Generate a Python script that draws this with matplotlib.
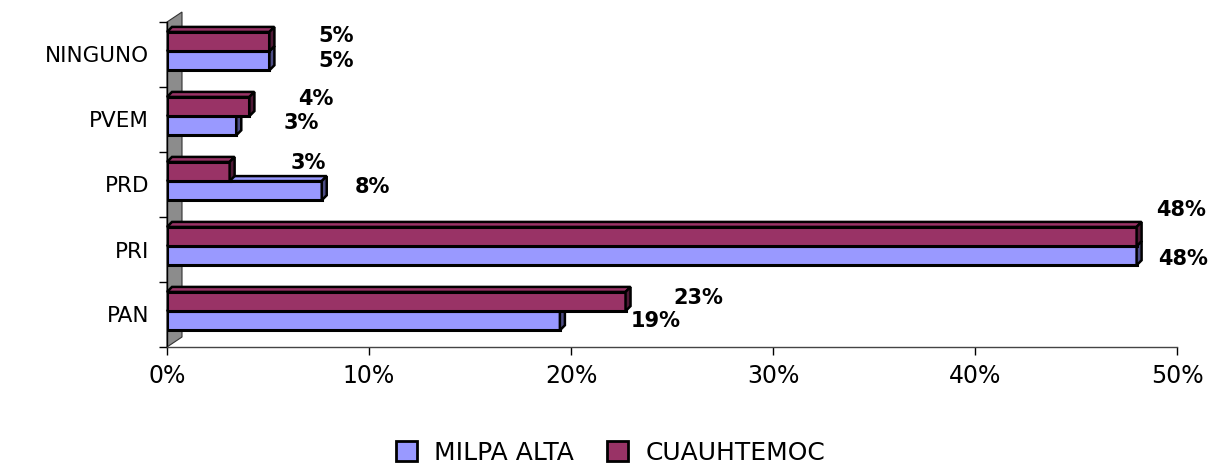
import numpy as np
import matplotlib
matplotlib.use("Agg")
import matplotlib.pyplot as plt
from matplotlib.patches import Polygon, Patch
from matplotlib.ticker import FuncFormatter

# data (percent)
partidos = ["PAN", "PRI", "PRD", "PVEM", "NINGUNO"]
milpa_alta = [19.45, 48.0, 7.66, 3.43, 5.07]
cuauhtemoc = [22.7, 48.0, 3.1, 4.08, 5.07]
series_names = ["MILPA ALTA", "CUAUHTEMOC"]

# label nudges in pixels (dx from bar end, dy from bar centre)
nudge_ma = [(71, -0.5), (22, -3.5), (33, 3.5), (47, 2.5), (49, 0)]
nudge_cu = [(48, 4), (20, 26.5), (61, 8), (49, 7.5), (49, 5.5)]

col_ma = "#9999FF"
col_ma_side = "#4D4D85"
col_cu = "#993366"
col_cu_side = "#4F1A36"

W, H = 1221, 467
fig = plt.figure(figsize=(W / 100, H / 100), dpi=100)
ax = fig.add_axes([167 / W, (H - 347) / H, (1177 - 167) / W, (347 - 22) / H])
ax.set_xlim(0, 50)
ax.set_ylim(-0.5, 4.5)

# 3d depth in data units
px_x = 1010 / 50.0
px_y = 325 / 5.0
dx = 5 / px_x
dy = 5 / px_y

h = 0.295
off_ma = -0.095
off_cu = 0.2

# back wall
wdx = 15 / px_x
wdy = 10 / px_y
ax.add_patch(Polygon([(0, -0.5), (wdx, -0.5 + wdy), (wdx, 4.5 + wdy), (0, 4.5)],
                     closed=True, facecolor="#8C8C8C", edgecolor="#333333",
                     lw=0.8, clip_on=False, zorder=1))

y = np.arange(len(partidos))


def bars3d(vals, offs, face, side, z):
    ax.barh(y + offs, vals, height=h, color=face, edgecolor="black",
            linewidth=2.2, zorder=z)
    for yi, v in zip(y, vals):
        b = yi + offs - h / 2
        t = yi + offs + h / 2
        ax.add_patch(Polygon([(0, t), (dx, t + dy), (v + dx, t + dy), (v, t)],
                             closed=True, facecolor=face, edgecolor="black",
                             lw=1.8, zorder=z, clip_on=False))
        ax.add_patch(Polygon([(v, b), (v + dx, b + dy), (v + dx, t + dy), (v, t)],
                             closed=True, facecolor=side, edgecolor="black",
                             lw=1.8, zorder=z, clip_on=False))


bars3d(milpa_alta, off_ma, col_ma, col_ma_side, 2)
bars3d(cuauhtemoc, off_cu, col_cu, col_cu_side, 3)

for yi, v, (nx, ny) in zip(y, milpa_alta, nudge_ma):
    ax.annotate("%.0f%%" % v, (v, yi + off_ma), xytext=(nx, ny),
                textcoords="offset pixels", ha="left", va="center",
                fontsize=15, fontweight="heavy", family="DejaVu Sans",
                annotation_clip=False, zorder=5)
for yi, v, (nx, ny) in zip(y, cuauhtemoc, nudge_cu):
    ax.annotate("%.0f%%" % v, (v, yi + off_cu), xytext=(nx, ny),
                textcoords="offset pixels", ha="left", va="center",
                fontsize=15, fontweight="heavy", family="DejaVu Sans",
                annotation_clip=False, zorder=5)

# axes styling
for s in ["top", "right"]:
    ax.spines[s].set_visible(False)
ax.spines["left"].set_color("black")
ax.spines["left"].set_linewidth(1.0)
ax.spines["bottom"].set_color("#444444")
ax.spines["bottom"].set_linewidth(1.0)

ax.set_yticks(y)
ax.set_yticklabels(partidos, fontsize=15.5, family="DejaVu Sans")
ax.set_yticks(np.arange(-0.5, 5, 1), minor=True)
ax.tick_params(axis="y", which="major", length=0, pad=13)
ax.tick_params(axis="y", which="minor", length=6, width=1, direction="out")

ax.set_xticks(np.arange(0, 51, 10))
ax.xaxis.set_major_formatter(FuncFormatter(lambda v, p: "%d%%" % v))
ax.tick_params(axis="x", length=6, width=1, direction="out", pad=6, labelsize=17)
for lab in ax.get_xticklabels():
    lab.set_family("DejaVu Sans")

handles = [Patch(facecolor=col_ma, edgecolor="black", lw=2),
           Patch(facecolor=col_cu, edgecolor="black", lw=2)]
fig.legend(handles, series_names, loc="center", bbox_to_anchor=(0.5, (H - 453) / H),
           ncol=2, frameon=False, handlelength=0.85, handleheight=0.85,
           handletextpad=0.7, columnspacing=1.3,
           prop={"family": "DejaVu Sans", "size": 18})

fig.savefig("out.png", dpi=100)
